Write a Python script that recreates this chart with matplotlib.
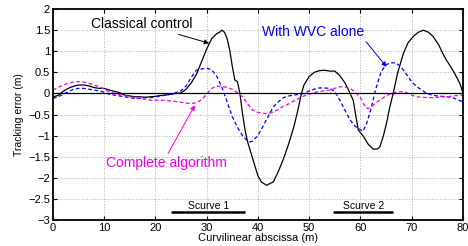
import numpy as np
import matplotlib
matplotlib.use('Agg')
import matplotlib.pyplot as plt

plt.rcParams['font.family'] = ['Liberation Sans', 'DejaVu Sans']

# Classical control (black)
x_cls = [0, 1, 2, 3, 4, 5, 6, 7, 8, 9, 10, 11, 12, 13, 14, 15, 16, 17, 18, 19, 20,
         21, 22, 23, 24, 25, 26, 27, 28, 29, 30, 31, 32, 32.5, 33, 33.5, 34, 34.5, 35,
         35.5, 36, 36.5, 37, 37.5, 38, 39, 40, 40.7, 41.7, 42.3, 43, 44, 45, 46, 47, 47.8,
         48.5, 49, 50, 51, 52, 53, 54, 55, 56, 57, 58, 58.6, 59, 59.6, 60.5, 61.5, 62.5,
         63.3, 63.8, 64.5, 65.1, 65.7, 66.4, 67.3, 68.4, 69.3, 70.3, 71.3, 72.3, 73.3,
         74.2, 75.3, 76.2, 76.8, 77.8, 78.5, 79.4, 80]
y_cls = [-0.08, -0.05, 0.05, 0.12, 0.17, 0.2, 0.2, 0.18, 0.14, 0.12, 0.12, 0.08, 0.05,
         0.02, -0.04, -0.06, -0.08, -0.08, -0.09, -0.08, -0.07, -0.05, -0.04, -0.02, 0.0,
         0.01, 0.1, 0.25, 0.45, 0.75, 1.05, 1.3, 1.42, 1.45, 1.5, 1.45, 1.3, 1.03, 0.65,
         0.32, 0.28, 0.0, -0.48, -0.87, -1.15, -1.55, -1.95, -2.1, -2.18, -2.14, -2.1,
         -1.85, -1.55, -1.2, -0.8, -0.4, 0.0, 0.2, 0.4, 0.5, 0.54, 0.55, 0.53, 0.53, 0.42,
         0.25, 0.0, -0.16, -0.45, -0.87, -1.0, -1.2, -1.32, -1.32, -1.27, -1.0, -0.71,
         -0.35, 0.0, 0.5, 0.95, 1.2, 1.35, 1.45, 1.5, 1.45, 1.35, 1.15, 0.92, 0.79, 0.6,
         0.45, 0.24, 0.02]

# With WVC alone (blue dashed)
x_wvc = [0, 1, 2, 3, 4, 5, 6, 7, 8, 9, 10, 11, 12, 13, 14, 15, 16, 17, 18, 19, 20, 21,
         22, 23, 24, 25, 26, 27, 28, 29, 30, 31, 32, 33, 34, 35, 36, 37, 38, 38.5, 39,
         40, 41, 42, 43, 44, 45, 46, 47, 48, 49, 50, 51, 52, 53, 54, 55, 56, 57, 58, 59,
         60, 60.5, 61.2, 62, 63, 64, 65, 66, 67, 68, 69, 70, 71, 72, 73, 74, 75, 76, 77,
         78, 79, 80]
y_wvc = [-0.12, -0.08, -0.02, 0.04, 0.1, 0.12, 0.12, 0.1, 0.08, 0.06, 0.03, -0.02,
         -0.04, -0.06, -0.08, -0.1, -0.12, -0.12, -0.1, -0.1, -0.08, -0.06, -0.04, -0.02,
         0.02, 0.06, 0.18, 0.38, 0.55, 0.58, 0.6, 0.56, 0.4, 0.14, -0.2, -0.55, -0.8,
         -1.0, -1.13, -1.15, -1.13, -1.0, -0.78, -0.55, -0.32, -0.2, -0.1, -0.06, -0.04,
         -0.02, 0.0, 0.06, 0.1, 0.13, 0.13, 0.12, 0.05, -0.16, -0.4, -0.63, -0.78, -0.86,
         -0.9, -0.72, -0.4, 0.1, 0.5, 0.68, 0.73, 0.72, 0.62, 0.45, 0.28, 0.16, 0.08, 0.0,
         -0.04, -0.06, -0.07, -0.08, -0.1, -0.15, -0.2]

# Complete algorithm (magenta dashed)
x_cmp = [0, 1, 2, 3, 4, 5, 6, 7, 8, 9, 10, 11, 12, 13, 14, 15, 16, 17, 18, 19, 20, 21,
         22, 23, 24, 25, 26, 27, 28, 29, 30, 31, 32, 33, 34, 35, 36, 37, 38, 39, 40, 41,
         42, 43, 44, 45, 46, 47, 48, 49, 50, 51, 52, 53, 54, 55, 56, 57, 58, 59, 60, 61,
         61.5, 62.5, 63, 64, 65, 66, 67, 68, 69, 70, 71, 72, 73, 74, 75, 76, 77, 78, 79, 80]
y_cmp = [0.08, 0.14, 0.2, 0.24, 0.27, 0.28, 0.27, 0.24, 0.2, 0.16, 0.1, 0.04, 0.0,
         -0.03, -0.05, -0.08, -0.1, -0.12, -0.14, -0.16, -0.16, -0.16, -0.17, -0.18,
         -0.19, -0.21, -0.23, -0.24, -0.22, -0.15, -0.02, 0.12, 0.17, 0.17, 0.14, 0.1,
         0.02, -0.08, -0.25, -0.4, -0.45, -0.47, -0.48, -0.44, -0.38, -0.3, -0.25, -0.18,
         -0.12, -0.06, -0.02, 0.02, 0.05, 0.06, 0.08, 0.12, 0.16, 0.15, 0.12, 0.03, -0.1,
         -0.33, -0.36, -0.28, -0.22, -0.14, -0.06, 0.0, 0.03, 0.04, 0.02, -0.04, -0.08,
         -0.09, -0.1, -0.1, -0.09, -0.08, -0.08, -0.06, -0.05, -0.04]

# S-curve segments: (label, start, end)
scurves = [('Scurve 1', 23.1, 37.5), ('Scurve 2', 54.7, 66.4)]

fig = plt.figure(figsize=(4.68, 2.46), dpi=100)
ax = fig.add_axes([0.113, 0.106, 0.876, 0.857])

ax.plot(x_cls, y_cls, color='black', lw=0.9)
ax.plot(x_wvc, y_wvc, color='#0000ff', lw=0.9, dashes=(3, 2))
ax.plot(x_cmp, y_cmp, color='#ee00ee', lw=0.9, dashes=(3, 2))
ax.axhline(0, color='black', lw=0.9)

for name, s0, s1 in scurves:
    ax.plot([s0, s1], [-2.82, -2.82], color='black', lw=1.8, solid_capstyle='butt')
    ax.text((s0 + s1) / 2, -2.66, name, ha='center', va='center', fontsize=7.5)

ax.annotate('Classical control', xy=(30.5, 1.19), xytext=(17.4, 1.65),
            ha='center', va='center', fontsize=10,
            arrowprops=dict(arrowstyle='-|>', color='black', lw=0.7,
                            mutation_scale=7, shrinkA=2, shrinkB=0))
ax.annotate('With WVC alone', xy=(65.1, 0.63), xytext=(50.7, 1.46),
            ha='center', va='center', fontsize=10, color='#0000ff',
            arrowprops=dict(arrowstyle='-|>', color='#0000ff', lw=0.7,
                            mutation_scale=7, shrinkA=0, shrinkB=0,
                            relpos=(1.0, 0.0)))
ax.annotate('Complete algorithm', xy=(27.7, -0.28), xytext=(22.2, -1.65),
            ha='center', va='center', fontsize=10, color='#ee00ee',
            arrowprops=dict(arrowstyle='-|>', color='#ee00ee', lw=0.7,
                            mutation_scale=7, shrinkA=0, shrinkB=0,
                            relpos=(0.5, 1.0)))

ax.set_xlim(0, 80)
ax.set_ylim(-3, 2)
ax.set_xticks(np.arange(0, 81, 10))
ax.set_yticks(np.arange(-3, 2.01, 0.5))
ax.set_yticklabels(['\u22123', '\u22122.5', '\u22122', '\u22121.5', '\u22121', '\u22120.5',
                    '0', '0.5', '1', '1.5', '2'])
ax.grid(True, color='#b0b0b0', linestyle=':', lw=0.7)
ax.tick_params(direction='in', top=True, right=True, labelsize=8, length=3, pad=2)
for sp in ax.spines.values():
    sp.set_linewidth(1.3)
ax.set_xlabel('Curvilinear abscissa (m)', fontsize=8, labelpad=0)
ax.set_ylabel('Tracking error (m)', fontsize=7.5, labelpad=3)

fig.savefig('out.png', dpi=100)
